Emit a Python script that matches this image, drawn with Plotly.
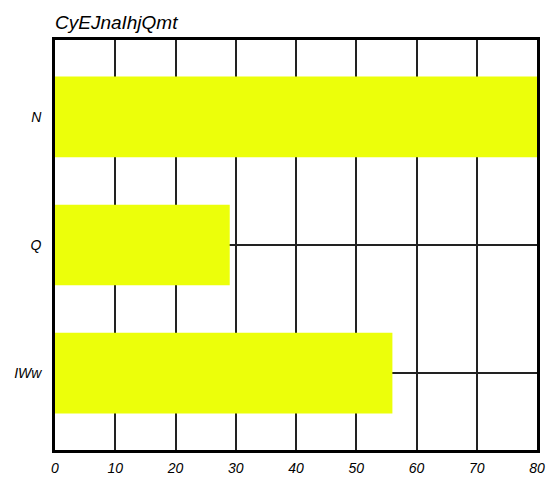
import plotly.graph_objects as go

categories = ["N", "Q", "IWw"]
values = [80, 29, 56]
x_ticks = [0, 10, 20, 30, 40, 50, 60, 70, 80]

fig = go.Figure(go.Bar(
    x=values, y=categories, orientation="h",
    marker=dict(color="#ecff0a", line=dict(width=0)),
    width=0.63,
))

fig.update_layout(
    width=560, height=490,
    margin=dict(l=55, r=23, t=40, b=40, autoexpand=False),
    paper_bgcolor="white", plot_bgcolor="white",
    font=dict(family="Liberation Sans, Arial, sans-serif", size=14, color="black", style="italic"),
    title=dict(text="CyEJnaIhjQmt", x=55/560, xanchor="left", y=1 - 22/490, yanchor="middle",
               font=dict(size=19, style="italic", color="black")),
    showlegend=False,
)
fig.update_xaxes(
    range=[0, 80], tickvals=x_ticks, showgrid=True, gridcolor="#222", gridwidth=1.5,
    showline=True, linecolor="black", linewidth=2.5, mirror=True, ticks="", zeroline=False,
    tickfont=dict(size=14, style="italic"), ticklabelstandoff=3,
)
fig.update_yaxes(
    range=[2.6, -0.6], showgrid=True, gridcolor="#222", gridwidth=1.5,
    showline=True, linecolor="black", linewidth=2.5, mirror=True, ticks="",
    tickfont=dict(size=14, style="italic"), ticklabelstandoff=8,
)

fig.write_html("out.html", config={"displayModeBar": False},
               post_script="document.body.style.margin='0';document.body.style.padding='0';")
